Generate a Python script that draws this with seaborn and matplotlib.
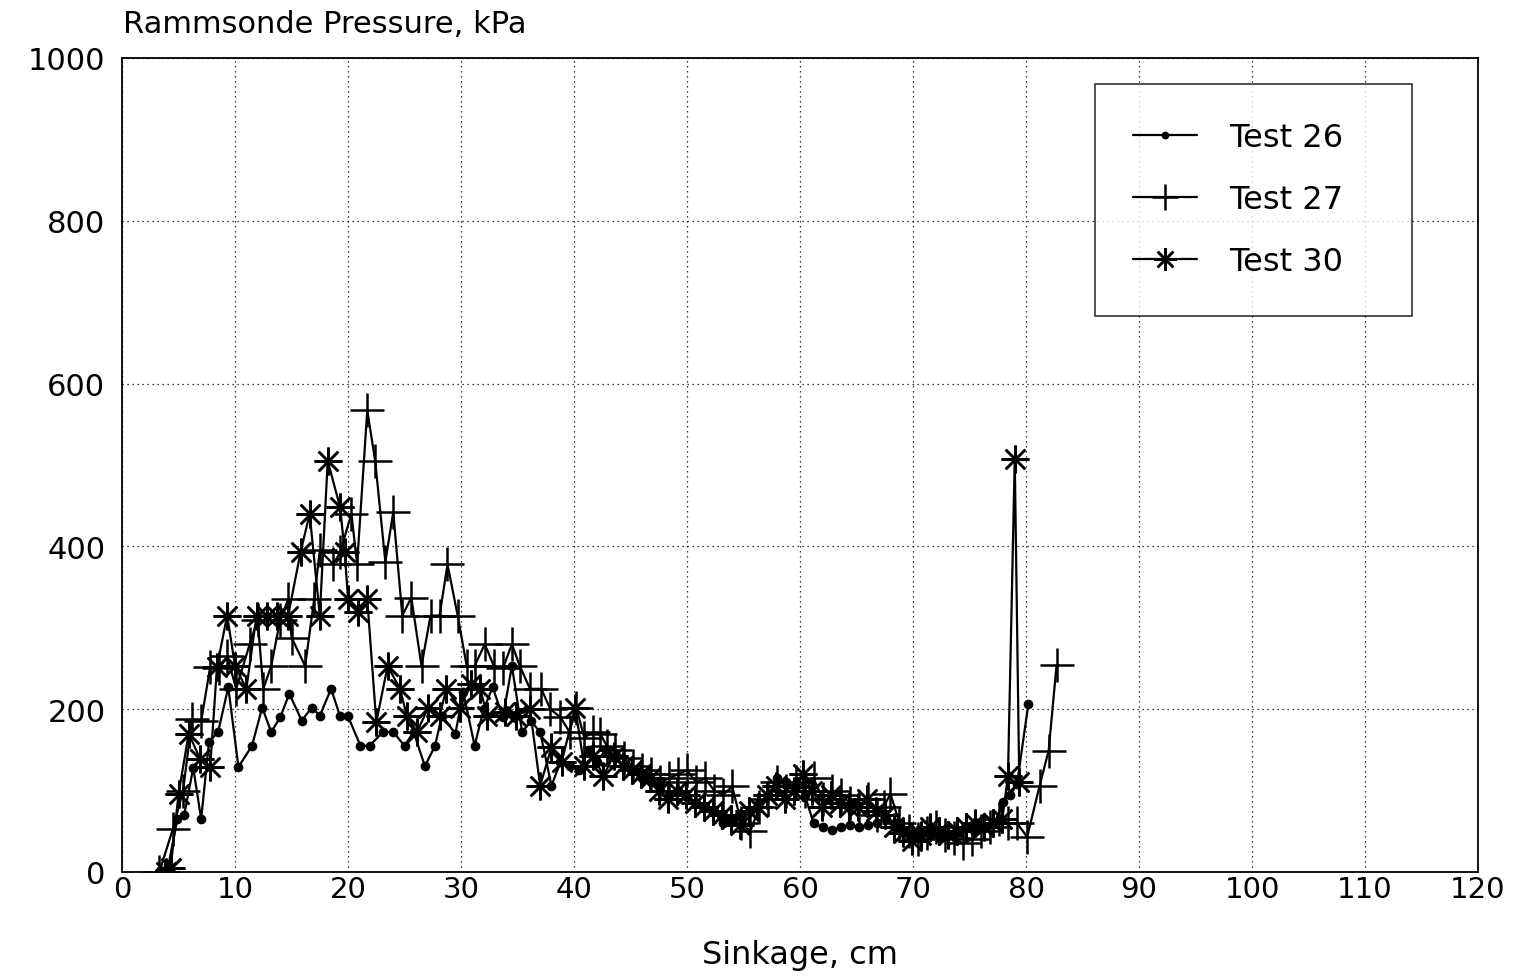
import matplotlib
matplotlib.use("Agg")
import matplotlib.pyplot as plt
import seaborn as sns
import pandas as pd

# ---- data ----
t26_x = [3.3, 4.1, 4.9, 5.5, 6.3, 7.0, 7.7, 8.5, 9.4, 10.3, 11.5, 12.4, 13.2, 14.0, 14.8, 15.9,
         16.8, 17.5, 18.5, 19.3, 20.0, 21.1, 21.9, 23.1, 24.0, 25.0, 25.8, 26.8, 27.7, 28.3, 29.5,
         30.2, 31.2, 32.0, 32.8, 33.7, 34.5, 35.4, 36.2, 37.0, 38.0, 38.8, 39.6, 40.4, 41.2, 42.0,
         42.8, 43.6, 44.4, 45.2, 46.0, 46.8, 47.6, 48.4, 49.2, 50.0, 50.8, 51.6, 52.4, 53.2, 54.0,
         54.8, 55.6, 56.4, 57.2, 58.0, 58.8, 59.6, 60.4, 61.2, 62.0, 62.8, 63.6, 64.4, 65.2, 66.0,
         66.8, 67.6, 68.4, 69.2, 70.0, 70.8, 71.6, 72.4, 73.2, 74.0, 74.8, 75.6, 76.4, 77.2, 78.0,
         78.6, 79.2, 80.2]
t26_y = [0, 8, 65, 70, 128, 65, 160, 172, 227, 129, 155, 202, 172, 190, 219, 186,
         202, 192, 225, 191, 191, 155, 155, 172, 172, 155, 172, 130, 155, 192, 170,
         221, 155, 200, 227, 190, 253, 172, 185, 172, 106, 135, 130, 125, 150, 135,
         150, 140, 130, 125, 115, 110, 105, 95, 100, 92, 85, 80, 75, 60, 65,
         70, 75, 85, 95, 115, 110, 105, 95, 60, 55, 52, 55, 58, 55, 58,
         60, 65, 60, 50, 45, 48, 45, 42, 45, 50, 55, 52, 55, 60, 86,
         95, 108, 206]

t27_x = [3.3, 4.5, 5.4, 6.2, 7.0, 7.8, 8.6, 9.3, 10.1, 11.3, 12.0, 12.5, 13.2, 14.0, 14.7, 15.0,
         16.2, 17.0, 17.5, 18.7, 19.3, 20.3, 20.8, 21.7, 22.4, 23.3, 24.0, 24.8, 25.6, 26.5, 27.3,
         28.1, 28.8, 29.7, 30.5, 31.2, 32.1, 32.9, 33.7, 34.5, 35.2, 36.1, 37.1, 37.9, 38.8, 39.6,
         40.2, 40.9, 41.7, 42.3, 42.9, 43.6, 44.4, 45.2, 46.0, 46.8, 47.6, 48.4, 49.2, 50.0, 50.8,
         51.6, 52.4, 53.2, 54.0, 54.8, 55.6, 56.4, 57.2, 58.0, 58.8, 59.6, 60.4, 61.2, 62.0, 62.8,
         63.6, 64.4, 65.2, 66.0, 66.8, 67.4, 68.0, 68.8, 69.6, 70.4, 71.2, 72.0, 72.8, 73.6, 74.4,
         75.2, 76.0, 76.8, 77.6, 78.4, 79.2, 80.1, 81.2, 82.0, 82.7]
t27_y = [0, 53, 100, 188, 185, 252, 250, 265, 225, 280, 310, 225, 253, 310, 335, 288,
         253, 335, 395, 378, 393, 440, 378, 567, 505, 381, 442, 315, 337, 253, 315,
         315, 378, 315, 253, 253, 280, 253, 250, 280, 253, 225, 225, 200, 190, 172,
         202, 165, 172, 170, 155, 150, 140, 130, 125, 120, 110, 115, 120, 125, 110,
         115, 100, 95, 105, 60, 50, 80, 90, 110, 100, 110, 100, 115, 90, 100,
         95, 85, 80, 90, 70, 80, 96, 60, 50, 40, 48, 55, 45, 42, 35,
         40, 50, 55, 65, 60, 60, 43, 106, 149, 254]

t30_x = [3.9, 4.3, 5.0, 5.9, 6.9, 7.8, 8.4, 9.3, 10.0, 11.0, 11.9, 12.8, 13.7, 14.7, 15.8, 16.6,
         17.5, 18.2, 19.3, 19.7, 20.0, 20.9, 21.7, 22.5, 23.5, 24.6, 25.2, 26.1, 27.1, 28.1, 28.7,
         29.9, 30.9, 31.7, 32.3, 33.9, 34.9, 36.1, 37.0, 38.0, 38.9, 40.1, 40.9, 41.7, 42.6, 43.5,
         44.3, 45.1, 45.9, 46.7, 47.5, 48.3, 49.1, 49.9, 50.7, 51.5, 52.3, 53.1, 53.9, 54.7, 55.5,
         56.3, 57.1, 57.9, 58.7, 59.5, 60.3, 61.1, 61.9, 62.7, 63.5, 64.3, 65.1, 65.9, 66.7, 67.5,
         68.3, 69.1, 69.9, 70.7, 71.5, 72.3, 73.1, 73.9, 74.7, 75.5, 76.3, 77.1, 77.9, 78.4, 79.0,
         79.4]
t30_y = [0, 5, 96, 170, 139, 129, 252, 315, 253, 225, 315, 315, 315, 315, 393, 440,
         315, 505, 448, 393, 335, 319, 335, 184, 253, 225, 192, 172, 202, 192, 225,
         202, 231, 225, 192, 196, 192, 200, 106, 153, 135, 202, 130, 143, 118, 143,
         130, 125, 120, 115, 100, 90, 100, 95, 85, 80, 75, 70, 65, 58, 75,
         80, 95, 105, 90, 100, 120, 100, 80, 95, 85, 80, 80, 90, 75, 70,
         55, 48, 38, 45, 55, 50, 45, 50, 55, 60, 55, 60, 65, 118, 507,
         110]

series_names = ["Test 26", "Test 27", "Test 30"]
x_ticks = [0, 10, 20, 30, 40, 50, 60, 70, 80, 90, 100, 110, 120]
y_ticks = [0, 200, 400, 600, 800, 1000]

# ---- plotting ----
sns.set_theme(style="white")
plt.rcParams["font.family"] = ["DejaVu Sans"]
plt.rcParams["text.color"] = "black"
plt.rcParams["axes.labelcolor"] = "black"
plt.rcParams["xtick.color"] = "black"
plt.rcParams["ytick.color"] = "black"

fig = plt.figure(figsize=(15.2, 9.78), dpi=100)
ax = fig.add_axes([0.0803, 0.1074, 0.8921, 0.8323])

df26 = pd.DataFrame({"x": t26_x, "y": t26_y})
df27 = pd.DataFrame({"x": t27_x, "y": t27_y})
df30 = pd.DataFrame({"x": t30_x, "y": t30_y})

common = dict(color="black", sort=False, estimator=None, linewidth=1.6, ax=ax)
sns.lineplot(data=df26, x="x", y="y", marker="o", markersize=7,
             markeredgewidth=0, label=series_names[0], **common)
sns.lineplot(data=df27, x="x", y="y", marker="+", markersize=24,
             markeredgewidth=1.8, markeredgecolor="black", label=series_names[1], **common)
sns.lineplot(data=df30, x="x", y="y", marker=(8, 2, 0), markersize=20,
             markeredgewidth=1.8, markeredgecolor="black", label=series_names[2], **common)

ax.set_xlim(0, 120)
ax.set_ylim(0, 1000)
ax.set_xticks(x_ticks)
ax.set_yticks(y_ticks)
ax.set_xticklabels([str(t) for t in x_ticks], fontsize=21)
ax.set_yticklabels([str(t) for t in y_ticks], fontsize=22)
ax.tick_params(axis="x", length=0, pad=2, colors="black")
ax.tick_params(axis="y", length=0, pad=12, colors="black")
ax.grid(True, color="black", linestyle=(0, (1, 3)), linewidth=0.9)
for s in ax.spines.values():
    s.set_color("black")
    s.set_linewidth(1.3)

ax.set_xlabel("Sinkage, cm", fontsize=23, labelpad=26)
ax.set_ylabel("")
fig.text(0.081, 0.960, "Rammsonde Pressure, kPa", fontsize=22, ha="left", va="bottom")

leg = ax.legend(loc="upper left", bbox_to_anchor=(0.7175, 0.698, 0.2335, 0.27), mode="expand",
                fontsize=23, frameon=True, fancybox=False, edgecolor="black", handlelength=2.0,
                borderpad=1.2, labelspacing=0.97, handletextpad=1.0, borderaxespad=0)
leg.get_frame().set_linewidth(1.2)
for h in leg.legend_handles:
    h.set_markersize(h.get_markersize() * 0.8)

fig.savefig("out.png", dpi=100, facecolor="white")
